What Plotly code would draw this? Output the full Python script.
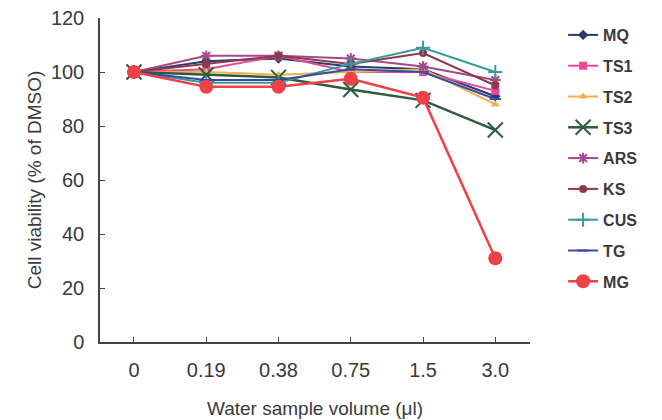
import plotly.graph_objects as go

volumes = ["0", "0.19", "0.38", "0.75", "1.5", "3.0"]
series_names = ["MQ", "TS1", "TS2", "TS3", "ARS", "KS", "CUS", "TG", "MG"]
MQ = [100, 104, 105, 102, 101, 91]
TS1 = [100, 101, 106, 100, 100, 93]
TS2 = [100, 100, 99, 100, 101, 88]
TS3 = [100, 99, 98, 93.5, 89.5, 78.5]
ARS = [100, 106, 106, 105, 102, 97]
KS = [100, 103, 106, 103, 107, 95]
CUS = [100, 96, 96, 103, 109, 100]
TG = [100, 97, 97, 101, 100, 90]
MG = [100, 94.5, 94.5, 97.5, 90.5, 31]
values = [MQ, TS1, TS2, TS3, ARS, KS, CUS, TG, MG]

colors = ["#2b3a6b", "#e8489a", "#f2b04a", "#2e5a3e", "#a24a8c",
          "#8b3a4a", "#3a9a9a", "#3a4aa0", "#f04048"]
symbols = ["diamond", "square", "triangle-up", "x-thin", "asterisk",
           "circle", "cross-thin", "line-ew", "circle"]
sizes = [8, 8, 8, 15, 9, 8, 10, 8, 14]
widths = [2, 2, 2, 2.5, 2, 2, 2, 2, 2.5]

fig = go.Figure()
for name, vals, c, s, sz, w in zip(series_names, values, colors, symbols, sizes, widths):
    fig.add_trace(go.Scatter(
        x=volumes, y=vals, name=name, legendgroup=name,
        mode="lines+markers",
        line=dict(color=c, width=w),
        marker=dict(symbol=s, size=sz, color=c,
                    line=dict(color=c, width=2 if s in ("x-thin", "asterisk", "cross-thin", "line-ew") else 0)),
    ))

fig.update_layout(
    width=662, height=420,
    margin=dict(l=92, r=140, t=10, b=86),
    paper_bgcolor="white", plot_bgcolor="white",
    font=dict(family="Liberation Sans, Arial, sans-serif", color="#3a3a3a"),
    showlegend=True,
    legend=dict(x=1.077, y=1.0, yanchor="top", xanchor="left",
                font=dict(size=16, color="#3a3a3a", family="Liberation Sans, Arial, sans-serif", weight="bold"),
                traceorder="grouped", tracegroupgap=7,
                bgcolor="rgba(0,0,0,0)"),
    xaxis=dict(
        type="category", range=[-0.47, 5.48],
        showline=True, linecolor="#444444", linewidth=1.5,
        ticks="inside", ticklen=5, tickcolor="#444444",
        showgrid=False, zeroline=False, automargin=False,
        tickfont=dict(size=20), ticklabelstandoff=9,
        title=dict(text="Water sample volume (\u03bcl)", font=dict(size=19), standoff=22),
    ),
    yaxis=dict(
        range=[0, 120], dtick=20,
        showline=True, linecolor="#444444", linewidth=1.5,
        ticks="inside", ticklen=5, tickcolor="#444444",
        showgrid=False, zeroline=False, automargin=False,
        tickfont=dict(size=20), ticklabelstandoff=10, ticklabeloverflow="allow",
        title=dict(text="Cell viability (% of DMSO)", font=dict(size=19), standoff=4),
    ),
)

fig.write_html("out.html")
